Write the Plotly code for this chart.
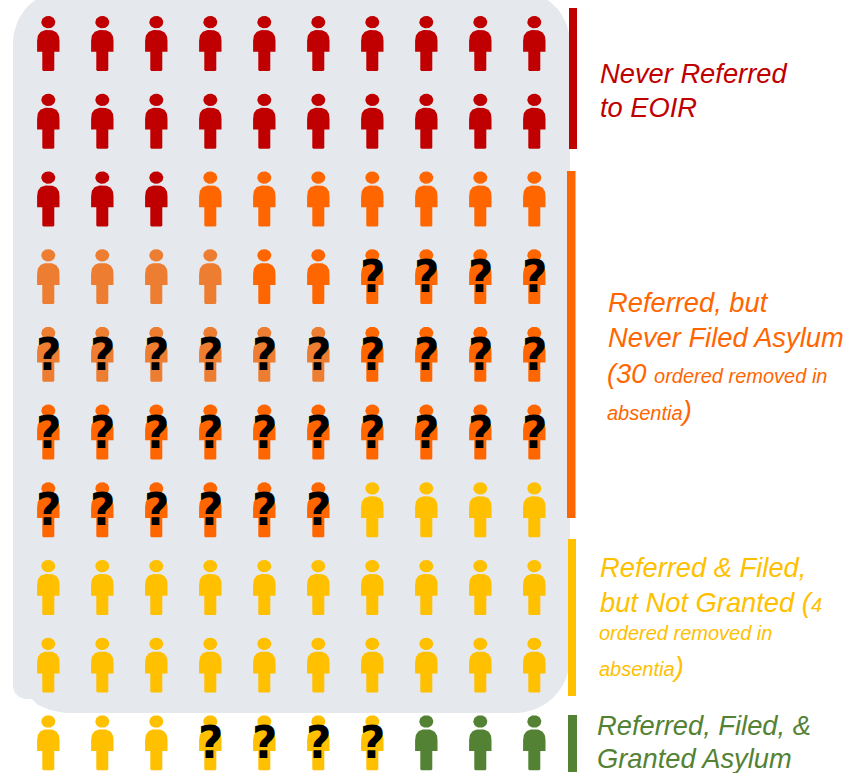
import numpy as np
import plotly.graph_objects as go

# ---------- data ----------
n_cols = 10
statuses = ["never_referred", "referred_no_filing", "referred_no_filing_alt", "filed_not_granted", "granted"]
status_colors = ["#C00000", "#FF6600", "#ED7D31", "#FFC000", "#548235"]
# run-length sequence of icons, read left-to-right, top-to-bottom
run_status = [0, 1, 2, 1, 1, 2, 1, 3, 3, 4]
run_count = [23, 7, 4, 2, 4, 6, 20, 27, 4, 3]
run_unknown = [False, False, False, False, True, True, True, False, True, False]

# ---------- scale helpers (page pixels <-> grid units) ----------
W, H = 857, 773
X0, DX = 48.3, 54.0
Y0, DY = 16.0, 77.7
gx = lambda p: (np.asarray(p, float) - X0) / DX
gy = lambda p: (np.asarray(p, float) - Y0) / DY

# person template, in pixels around (centre, head top)
t = np.linspace(0, 2 * np.pi, 41)
head_x = 7.0 * np.cos(t)
head_y = 6.2 + 6.2 * np.sin(t)
a = np.linspace(np.pi, 2 * np.pi, 41)
dome_x = 11.2 * np.sign(np.cos(a)) * np.abs(np.cos(a)) ** (2 / 2.5)
dome_y = 25 + 11 * np.sign(np.sin(a)) * np.abs(np.sin(a)) ** (2 / 2.5)
body_x = np.r_[dome_x, 11.2, 6.0, 6.0, 5.0, -5.0, -6.0, -6.0, -11.2, -11.2]
body_y = np.r_[dome_y, 35.8, 35.8, 54, 55, 55, 54, 35.8, 35.8, 25]

# expand runs to icons
icons = []
for s, c, u in zip(run_status, run_count, run_unknown):
    icons += [(s, u)] * c
cols = [i % n_cols for i in range(len(icons))]
rows = [i // n_cols for i in range(len(icons))]

fig = go.Figure()

# gray panel
ang = lambda a0, a1, n=24: np.radians(np.linspace(a0, a1, n))
tl = ang(180, 270); tr = ang(270, 360); br = ang(0, 90)
px = np.r_[66 + 53 * np.cos(tl), 517 + 53 * np.cos(tr), 515 + 55 * np.cos(br),
           65, 50, 38, 32, 25, 19, 15, 13]
py = np.r_[43 + 53 * np.sin(tl), 43 + 53 * np.sin(tr), 658 + 55 * np.sin(br),
           713, 710, 705, 699, 699, 697, 693, 687]
px = np.clip(px, 0, W); py = np.clip(py, 0, H)
fig.add_trace(go.Scatter(x=gx(px), y=gy(py), mode="lines", fill="toself",
                         fillcolor="#E5E8ED", line=dict(width=0), hoverinfo="skip", showlegend=False))

# persons, one trace per status
for si, name in enumerate(statuses):
    xs, ys = [], []
    for (s, u), c, r in zip(icons, cols, rows):
        if s != si:
            continue
        for tx, ty in ((head_x, head_y), (body_x, body_y)):
            xs += list(c + tx / DX) + [None]
            ys += list(r + ty / DY) + [None]
    fig.add_trace(go.Scatter(x=xs, y=ys, mode="lines", fill="toself", name=name,
                             fillcolor=status_colors[si], line=dict(width=0),
                             hoverinfo="skip", showlegend=False))

# question marks
qx = [c for (s, u), c in zip(icons, cols) if u]
qy = [r for (s, u), r in zip(icons, rows) if u]
fig.add_trace(go.Scatter(x=list(np.array(qx) + 0.5 / DX), y=list(np.array(qy) + 32 / DY),
                         mode="text", text=["?"] * len(qx),
                         textfont=dict(family="DejaVu Sans", size=44, color="black", weight="bold"),
                         textposition="middle center", hoverinfo="skip", showlegend=False))

# group bars
bars = [(569, 577, 8, 149, 0), (567, 575.5, 171, 518, 1), (568, 576, 539, 696, 3), (568, 577, 715, 772, 4)]
for x0, x1, y0, y1, si in bars:
    fig.add_trace(go.Scatter(x=gx([x0, x1, x1, x0, x0]), y=gy([y0, y0, y1, y1, y0]),
                             mode="lines", fill="toself", fillcolor=status_colors[si],
                             line=dict(width=0), hoverinfo="skip", showlegend=False))

# labels
B = 27.3; S = 20
sm = lambda s: f'<span style="font-size:{S}px">{s}</span>'
labels = [
    ("Never Referred", 599, 73, 0),
    ("to EOIR", 599, 107, 0),
    ("Referred, but", 607, 302, 1),
    ("Never Filed Asylum", 607, 337, 1),
    ("(30 " + sm("ordered removed in"), 606, 373, 1),
    (sm("absentia") + ")", 606, 410, 1),
    ("Referred & Filed,", 599, 567, 3),
    ("but Not Granted (" + sm("4"), 599, 602, 3),
    (sm("ordered removed in"), 598, 633, 3),
    (sm("absentia") + ")", 598, 666, 3),
    ("Referred, Filed, &", 596, 725, 4),
    ("Granted Asylum", 596, 758, 4),
]
for txt, x, y, si in labels:
    fig.add_annotation(x=float(gx(x)), y=float(gy(y)), text=txt, showarrow=False, xanchor="left",
                       yanchor="middle", borderpad=0, align="left",
                       font=dict(family="Liberation Sans", size=B, color=status_colors[si], style="italic"))

fig.update_layout(
    width=W, height=H, margin=dict(l=0, r=0, t=0, b=0),
    paper_bgcolor="white", plot_bgcolor="white", showlegend=False,
    xaxis=dict(range=[float(gx(0)), float(gx(W))], visible=False, fixedrange=True),
    yaxis=dict(range=[float(gy(H)), float(gy(0))], visible=False, fixedrange=True),
)
fig.write_html("out.html", config=dict(displayModeBar=False),
               post_script="document.body.style.margin='0';document.body.style.overflow='hidden';")
